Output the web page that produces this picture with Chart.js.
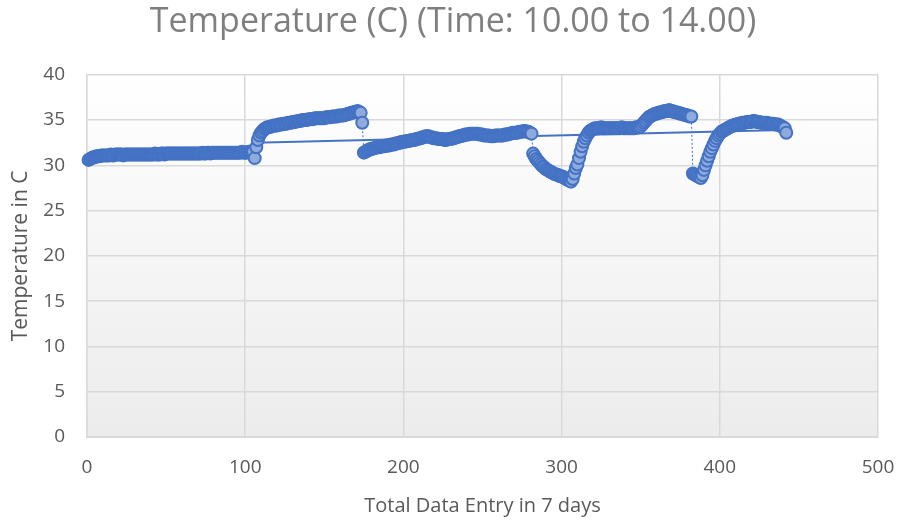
<!DOCTYPE html>
<html lang="en">
<head>
    <meta charset="UTF-8">
    <title>Temperature (C) (Time: 10.00 to 14.00)</title>
    <script src="https://cdn.jsdelivr.net/npm/chart.js"></script>
    <style>
        html, body { margin: 0; padding: 0; background: #ffffff; }
        #wrap { width: 906px; height: 521px; }
    </style>
</head>
<body>
    <div id="wrap"><canvas id="tempChart" width="906" height="521"></canvas></div>

    <script>
        // Readings, grouped by run; each run starts at the entry number in runStart
        const runStart = [1, 106, 175, 282, 383];

        const run1 = [
            30.6, 30.7, 30.8, 30.9, 30.9, 31.0, 31.0, 31.0, 31.1, 31.1,
            31.1, 31.1, 31.1, 31.1, 31.2, 31.1, 31.1, 31.2, 31.2, 31.2,
            31.2, 31.2, 31.1, 31.2, 31.2, 31.2, 31.2, 31.2, 31.2, 31.2,
            31.2, 31.2, 31.2, 31.2, 31.2, 31.2, 31.2, 31.2, 31.2, 31.2,
            31.2, 31.2, 31.3, 31.2, 31.2, 31.2, 31.3, 31.3, 31.2, 31.3,
            31.3, 31.3, 31.3, 31.3, 31.3, 31.3, 31.3, 31.3, 31.3, 31.3,
            31.3, 31.3, 31.3, 31.3, 31.3, 31.3, 31.3, 31.3, 31.3, 31.3,
            31.3, 31.3, 31.4, 31.3, 31.3, 31.4, 31.4, 31.3, 31.4, 31.4,
            31.4, 31.4, 31.4, 31.4, 31.4, 31.4, 31.4, 31.4, 31.4, 31.4,
            31.4, 31.4, 31.4, 31.4, 31.4, 31.4, 31.4, 31.5, 31.4, 31.4,
            31.4, 31.5, 31.5, 31.5, 31.5
        ];
        const run2 = [
            30.8,
            32.0, 32.8, 33.3, 33.6, 33.8, 34.0, 34.1, 34.2, 34.2, 34.3,
            34.3, 34.4, 34.4, 34.4, 34.5, 34.5, 34.5, 34.6, 34.6, 34.6,
            34.7, 34.7, 34.7, 34.8, 34.8, 34.8, 34.9, 34.9, 34.9, 35.0,
            35.0, 35.0, 35.0, 35.1, 35.1, 35.1, 35.1, 35.2, 35.2, 35.2,
            35.2, 35.2, 35.2, 35.2, 35.3, 35.3, 35.3, 35.3, 35.4, 35.4,
            35.4, 35.4, 35.5, 35.5, 35.5, 35.5, 35.6, 35.6, 35.7, 35.7,
            35.8, 35.8, 35.9, 35.9, 36.0, 35.9, 35.8, 34.7
        ];
        const run3 = [
            31.4, 31.5, 31.6, 31.7, 31.8, 31.8,
            31.9, 31.9, 32.0, 32.0, 32.0, 32.1, 32.1, 32.1, 32.2, 32.2,
            32.2, 32.3, 32.3, 32.3, 32.4, 32.4, 32.5, 32.5, 32.6, 32.6,
            32.6, 32.7, 32.7, 32.7, 32.8, 32.8, 32.8, 32.9, 32.9, 33.0,
            33.0, 33.1, 33.1, 33.2, 33.2, 33.2, 33.1, 33.1, 33.0, 33.0,
            33.0, 32.9, 32.9, 32.9, 32.9, 32.8, 32.8, 32.9, 32.9, 32.9,
            33.0, 33.0, 33.1, 33.1, 33.2, 33.2, 33.3, 33.3, 33.4, 33.4,
            33.4, 33.5, 33.5, 33.5, 33.5, 33.5, 33.5, 33.4, 33.4, 33.4,
            33.3, 33.3, 33.3, 33.3, 33.2, 33.2, 33.2, 33.3, 33.3, 33.3,
            33.3, 33.3, 33.3, 33.4, 33.4, 33.4, 33.5, 33.5, 33.6, 33.6,
            33.6, 33.6, 33.7, 33.7, 33.7, 33.8, 33.8, 33.7, 33.7, 33.6, 33.5
        ];
        const run4 = [
            31.3, 31.0, 30.7, 30.5, 30.3, 30.1, 29.9, 29.8, 29.6,
            29.5, 29.4, 29.3, 29.2, 29.1, 29.0, 29.0, 28.9, 28.8, 28.8,
            28.7, 28.6, 28.5, 28.4, 28.3, 28.2, 28.5, 29.1, 29.7, 30.1,
            30.8, 31.5, 32.1, 32.6, 33.0, 33.3, 33.6, 33.8, 33.9, 34.0,
            34.1, 34.1, 34.1, 34.1, 34.2, 34.1, 34.1, 34.1, 34.1, 34.1,
            34.1, 34.1, 34.1, 34.1, 34.1, 34.1, 34.1, 34.2, 34.1, 34.1,
            34.1, 34.1, 34.1, 34.1, 34.1, 34.1, 34.2, 34.2, 34.2, 34.3,
            34.5, 34.7, 34.9, 35.1, 35.3, 35.4, 35.5, 35.6, 35.7, 35.7,
            35.8, 35.8, 35.9, 35.9, 36.0, 36.0, 36.0, 36.1, 36.0, 36.0,
            35.9, 35.9, 35.8, 35.8, 35.7, 35.7, 35.6, 35.6, 35.5, 35.5, 35.4, 35.4
        ];
        const run5 = [
            29.1, 29.0, 28.9, 28.8, 28.7, 28.6, 28.9, 29.5,
            30.0, 30.5, 31.0, 31.5, 31.9, 32.3, 32.7, 33.0, 33.3, 33.5,
            33.7, 33.8, 33.9, 34.0, 34.1, 34.2, 34.3, 34.4, 34.4, 34.5,
            34.5, 34.6, 34.6, 34.7, 34.7, 34.7, 34.8, 34.8, 34.8, 34.8,
            34.9, 34.9, 34.8, 34.8, 34.8, 34.7, 34.7, 34.7, 34.7, 34.7,
            34.6, 34.6, 34.6, 34.6, 34.5, 34.5, 34.5, 34.4, 34.3, 34.2, 34.1, 33.6
        ];
        const runs = [run1, run2, run3, run4, run5];

        // Straight trend line (two ends)
        const trendX = [106, 440];
        const trendY = [32.5, 33.9];

        const xAxisTitle = 'Total Data Entry in 7 days';
        const yAxisTitle = 'Temperature in C';
        const chartTitle = 'Temperature (C) (Time: 10.00 to 14.00)';

        // Build {x, y} points
        const readings = [];
        runs.forEach((run, r) => {
            run.forEach((t, i) => readings.push({ x: runStart[r] + i, y: t }));
        });
        const trendPoints = trendX.map((x, i) => ({ x: x, y: trendY[i] }));

        // Plot area gradient (white to light grey)
        const plotBackground = {
            id: 'plotBackground',
            beforeDraw(chart) {
                const { ctx, chartArea: a } = chart;
                const g = ctx.createLinearGradient(0, a.top, 0, a.bottom);
                g.addColorStop(0, '#ffffff');
                g.addColorStop(1, '#ececec');
                ctx.save();
                ctx.fillStyle = g;
                ctx.fillRect(a.left, a.top, a.right - a.left, a.bottom - a.top);
                ctx.restore();
            }
        };

        const grey = '#595959';
        const gridColor = '#d9d9d9';

        new Chart(document.getElementById('tempChart'), {
            type: 'scatter',
            data: {
                datasets: [
                    {
                        label: 'Temperature',
                        data: readings,
                        showLine: true,
                        borderColor: '#4472c4',
                        borderWidth: 1,
                        borderDash: [2, 2],
                        pointRadius: 6,
                        pointBorderWidth: 2,
                        pointBackgroundColor: '#8faadc',
                        pointBorderColor: '#4472c4',
                        clip: false
                    },
                    {
                        label: 'Trend',
                        data: trendPoints,
                        showLine: true,
                        borderColor: '#4472c4',
                        borderWidth: 2,
                        pointRadius: 0
                    }
                ]
            },
            options: {
                responsive: false,
                animation: false,
                layout: { padding: 0 },
                plugins: {
                    legend: { display: false },
                    tooltip: { enabled: false },
                    title: {
                        display: true,
                        text: chartTitle,
                        color: '#7f7f7f',
                        font: { family: 'Open Sans', size: 34, weight: 'normal' },
                        padding: { top: 2, bottom: 32 }
                    }
                },
                scales: {
                    x: {
                        type: 'linear',
                        min: 0,
                        max: 500,
                        afterFit(scale) {
                            scale.height = 84;
                            scale.paddingLeft = 0;
                            scale.paddingRight = 28;
                        },
                        ticks: {
                            stepSize: 100,
                            padding: 19,
                            color: grey,
                            font: { family: 'Open Sans', size: 19 }
                        },
                        grid: { color: gridColor, lineWidth: 1.5, drawTicks: false },
                        border: { color: gridColor, width: 2 },
                        title: {
                            display: true,
                            text: xAxisTitle,
                            color: grey,
                            font: { family: 'Open Sans', size: 20 },
                            padding: { top: 0, bottom: 3 }
                        }
                    },
                    y: {
                        min: 0,
                        max: 40,
                        afterFit(scale) { scale.width = 87; },
                        ticks: {
                            stepSize: 5,
                            padding: 22,
                            color: grey,
                            font: { family: 'Open Sans', size: 19 }
                        },
                        grid: { color: gridColor, lineWidth: 1.5, drawTicks: false },
                        border: { color: gridColor, width: 1.5 },
                        title: {
                            display: true,
                            text: yAxisTitle,
                            color: grey,
                            font: { family: 'Open Sans', size: 21 },
                            padding: { top: 8, bottom: 0 }
                        }
                    }
                }
            },
            plugins: [plotBackground]
        });
    </script>
</body>
</html>
